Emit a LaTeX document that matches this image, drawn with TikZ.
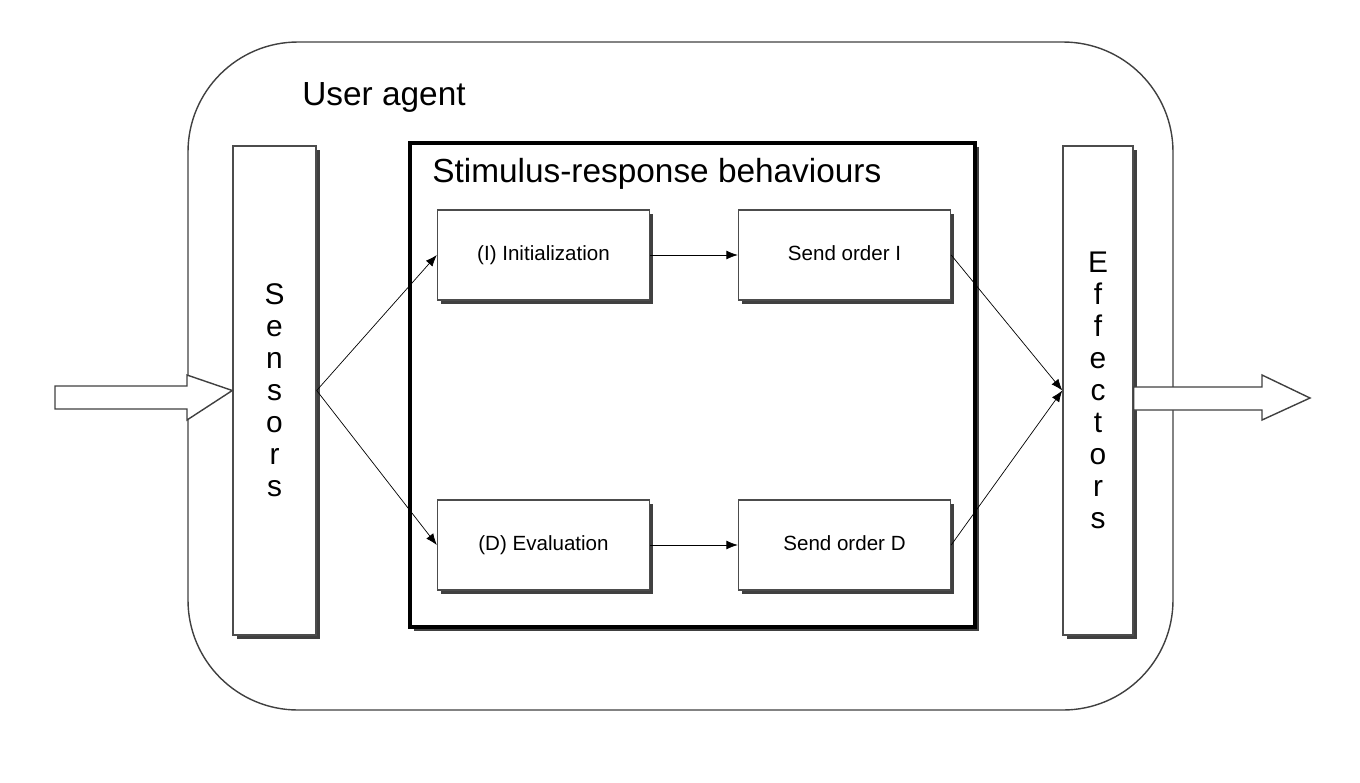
\documentclass[tikz,border=0pt]{standalone}
\usepackage{fontspec}
\setmainfont{Liberation Sans}
\usetikzlibrary{positioning,shadows,arrows.meta}

\begin{document}
\begin{tikzpicture}[x=0.02cm,y=-0.02cm,>={Latex[length=6.5pt,width=5pt]},
  shade box/.style={draw=black!70,fill=white,line width=0.8pt,
    drop shadow={shadow xshift=2.2pt,shadow yshift=-2.2pt,fill=black!75,opacity=1}},
  task/.style={shade box,minimum width=4.24cm,minimum height=1.8cm,text height=8.5pt,text depth=2.5pt,
    font=\fontsize{11.7}{14}\selectfont},
  bar/.style={shade box,minimum height=9.78cm,align=center,font=\fontsize{17}{18.2}\selectfont},
  hollow/.style={draw=black!75,fill=white,line width=0.8pt}]
\useasboundingbox (0,0) rectangle (1360,782);
% agent frame
\draw [black!75,line width=0.8pt,rounded corners=2.2cm] (188,42) rectangle (1173,710);
\node [anchor=base west,inner xsep=0pt,font=\fontsize{19}{22}\selectfont] (agent) at (302,105) {User agent};
% behaviour block
\node [shade box,draw=black,line width=2pt,minimum width=11.3cm,minimum height=9.68cm] (srb) at (692.5,385) {};
\node [anchor=base west,inner xsep=0pt,font=\fontsize{19}{22}\selectfont] (srbtitle) at (432,182) {Stimulus-response behaviours};
\node [task] (init) at (543.5,255) {(I) Initialization};
\node [task] (sendi) at (844.5,255) {Send order I};
\node [task] (eval) at (543.5,545) {(D) Evaluation};
\node [task] (sendd) at (844.5,545) {Send order D};
% sensors and effectors
\node [bar,minimum width=1.66cm] (sen) at (274.5,390.5) {S\\e\\n\\s\\o\\r\\s};
\node [bar,minimum width=1.4cm] (eff) at (1098,390.5) {E\\f\\f\\e\\c\\t\\o\\r\\s};
% input and output
\draw [hollow] (55,386) -- (187,386) -- (187,375) -- (sen.west) -- (187,420) -- (187,409) -- (55,409) -- cycle;
\draw [hollow] (eff.east |- 0,387) -- (1262,387) -- (1262,375) -- (1310,398) -- (1262,420) -- (1262,410) -- (eff.east |- 0,410) -- cycle;
% connectors
\draw [->] (sen.east) -- (init.west);
\draw [->] (sen.east) -- (eval.west);
\draw [->] (init.east) -- (sendi.west);
\draw [->] (eval.east) -- (sendd.west);
\draw [->] (sendi.east) -- (eff.west);
\draw [->] (sendd.east) -- (eff.west);
\end{tikzpicture}
\end{document}
